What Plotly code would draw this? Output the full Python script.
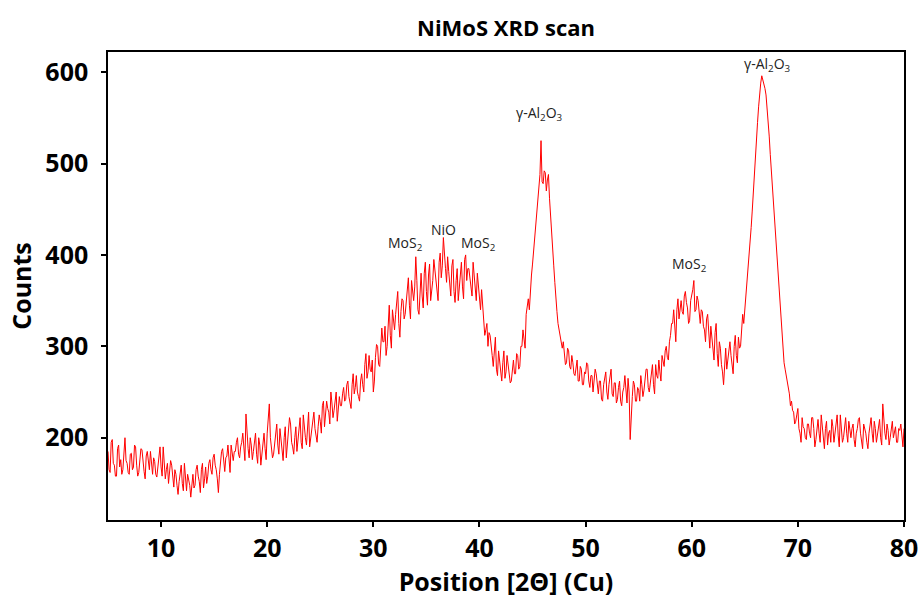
import plotly.graph_objects as go

# XRD scan: 2-theta from 5.0 to 80.0 deg, step 0.1 deg
scan_start = 5.0
scan_step = 0.1
counts = [
    185, 165, 162, 195, 198, 172, 170, 158, 158, 188, 192, 168, 176, 160, 165, 190, 200, 175, 172, 162,
    160, 182, 183, 165, 168, 192, 190, 170, 158, 162, 176, 188, 187, 170, 163, 155, 180, 185, 170, 165,
    185, 172, 160, 178, 174, 160, 157, 168, 182, 190, 168, 158, 190, 172, 155, 165, 172, 150, 162, 175,
    170, 158, 146, 165, 160, 148, 138, 152, 163, 170, 150, 142, 172, 158, 142, 160, 155, 148, 135, 150,
    160, 145, 148, 165, 170, 158, 152, 140, 165, 172, 145, 155, 168, 150, 158, 172, 176, 165, 160, 178,
    182, 170, 165, 155, 140, 160, 178, 185, 188, 170, 163, 178, 180, 192, 170, 162, 192, 180, 175, 185,
    185, 195, 200, 182, 178, 190, 195, 205, 182, 175, 226, 198, 188, 178, 200, 192, 176, 185, 195, 205,
    182, 172, 200, 192, 170, 185, 195, 205, 188, 176, 205, 218, 237, 200, 190, 178, 182, 195, 205, 215,
    192, 182, 210, 198, 185, 175, 200, 212, 178, 190, 205, 222, 215, 195, 190, 182, 200, 212, 185, 198,
    210, 222, 195, 188, 225, 208, 200, 192, 215, 228, 190, 200, 208, 218, 228, 210, 202, 195, 212, 225,
    218, 205, 235, 240, 212, 225, 240, 232, 228, 215, 250, 238, 222, 230, 238, 250, 218, 228, 245, 235,
    235, 248, 255, 240, 242, 258, 262, 245, 240, 232, 258, 270, 248, 255, 268, 250, 245, 240, 262, 270,
    258, 250, 280, 292, 265, 272, 290, 275, 272, 285, 250, 262, 288, 302, 300, 280, 278, 295, 320, 305,
    305, 322, 290, 300, 330, 345, 312, 298, 340, 325, 318, 335, 345, 360, 325, 310, 338, 352, 350, 330,
    335, 348, 362, 375, 345, 330, 372, 360, 350, 365, 398, 372, 340, 335, 368, 380, 355, 342, 380, 392,
    360, 345, 378, 390, 350, 362, 372, 395, 385, 368, 365, 350, 392, 402, 375, 388, 419, 395, 385, 370,
    398, 382, 370, 355, 388, 395, 360, 348, 372, 385, 350, 362, 378, 392, 365, 352, 395, 400, 372, 385,
    385, 372, 368, 355, 392, 378, 372, 350, 380, 368, 355, 340, 362, 345, 330, 312, 318, 325, 300, 315,
    312, 295, 290, 278, 302, 310, 275, 268, 295, 285, 268, 262, 282, 295, 265, 272, 290, 278, 270, 260,
    262, 278, 285, 270, 270, 292, 290, 275, 278, 300, 300, 318, 310, 298, 335, 342, 352, 340, 365, 378,
    390, 405, 420, 435, 448, 460, 470, 488, 525, 480, 478, 492, 490, 470, 482, 488, 462, 440, 420, 405,
    388, 370, 350, 338, 325, 318, 310, 300, 298, 305, 290, 280, 282, 298, 295, 278, 275, 290, 282, 270,
    268, 280, 285, 262, 262, 278, 275, 258, 258, 272, 270, 282, 280, 262, 255, 268, 268, 250, 262, 275,
    270, 255, 248, 262, 262, 242, 240, 258, 265, 272, 250, 242, 258, 265, 275, 248, 245, 260, 260, 238,
    242, 255, 262, 240, 235, 250, 255, 268, 248, 238, 265, 250, 198, 232, 245, 262, 258, 240, 240, 255,
    252, 240, 268, 258, 245, 252, 262, 275, 275, 255, 250, 262, 268, 280, 258, 248, 280, 268, 265, 285,
    272, 262, 290, 282, 278, 295, 300, 288, 285, 305, 312, 325, 325, 340, 318, 305, 340, 352, 330, 345,
    350, 338, 335, 355, 360, 348, 342, 325, 328, 350, 355, 362, 372, 338, 340, 355, 350, 332, 325, 340,
    338, 322, 318, 305, 330, 335, 310, 298, 322, 312, 298, 285, 315, 325, 292, 278, 305, 298, 280, 272,
    258, 282, 298, 275, 285, 300, 305, 290, 280, 270, 300, 312, 290, 282, 310, 298, 300, 315, 335, 325,
    340, 352, 368, 380, 392, 410, 430, 448, 470, 488, 505, 525, 545, 562, 578, 588, 596, 592, 588, 582,
    575, 562, 548, 530, 510, 492, 470, 452, 435, 418, 400, 385, 370, 350, 330, 308, 290, 282, 275, 268,
    262, 255, 248, 235, 240, 230, 228, 215, 218, 225, 232, 210, 205, 195, 222, 212, 210, 200, 198, 215,
    215, 205, 200, 222, 222, 210, 190, 198, 212, 220, 205, 195, 225, 212, 198, 188, 210, 218, 192, 205,
    208, 195, 220, 212, 195, 205, 215, 225, 202, 190, 225, 212, 195, 200, 212, 222, 205, 195, 218, 210,
    200, 210, 215, 198, 190, 205, 210, 220, 222, 205, 198, 188, 215, 210, 205, 195, 188, 205, 212, 222,
    205, 195, 218, 210, 195, 202, 212, 220, 200, 192, 237, 215, 205, 198, 215, 208, 192, 200, 208, 218,
    200, 208, 212, 195, 195, 210, 208, 215, 198, 190, 210,
]
two_theta = [round(scan_start + scan_step * i, 1) for i in range(len(counts))]

# Peak labels
peak_labels = ["MoS<sub>2</sub>", "NiO", "MoS<sub>2</sub>", "γ-Al<sub>2</sub>O<sub>3</sub>",
               "MoS<sub>2</sub>", "γ-Al<sub>2</sub>O<sub>3</sub>"]
peak_x = [33.0, 36.6, 39.9, 45.7, 59.8, 67.1]
peak_y = [412, 428, 412, 555, 389, 608]

x_ticks = [10, 20, 30, 40, 50, 60, 70, 80]
y_ticks = [200, 300, 400, 500, 600]

FONT = "'Open Sans', Lato, sans-serif"
FIG_W, FIG_H = 921, 599

fig = go.Figure()
fig.add_trace(go.Scatter(
    x=two_theta, y=counts, mode="lines",
    line=dict(color="#ff0000", width=1),
    showlegend=False,
))

for t, xv, yv in zip(peak_labels, peak_x, peak_y):
    fig.add_annotation(x=xv, y=yv, xref="x", yref="y", text=t, showarrow=False,
                       font=dict(family=FONT, size=14, color="#222222"))

axis_common = dict(
    showline=True, linecolor="black", linewidth=1.5, mirror=True,
    ticks="outside", ticklen=5, tickwidth=1.5, tickcolor="black",
    showgrid=False, zeroline=False, automargin=False,
    tickfont=dict(family=FONT, size=25, color="black", weight="bold"),
)

fig.update_layout(
    width=FIG_W, height=FIG_H,
    margin=dict(l=108, r=17, t=52, b=79),
    paper_bgcolor="white", plot_bgcolor="white",
    title=dict(text="<b>NiMoS XRD scan</b>", x=0.5, xref="paper", xanchor="center",
               y=1 - 28 / FIG_H, yref="container", yanchor="middle",
               font=dict(family=FONT, size=22, color="black")),
    xaxis=dict(range=[5, 80], tickvals=x_ticks, ticklabelstandoff=0,
               title=dict(text="<b>Position [2Θ] (Cu)</b>", standoff=4,
                          font=dict(family=FONT, size=25, color="black")),
               **axis_common),
    yaxis=dict(range=[110, 622], tickvals=y_ticks, ticklabelstandoff=8,
               title=dict(text="<b>Counts</b>", standoff=7,
                          font=dict(family=FONT, size=25, color="black")),
               **axis_common),
)

# remove the page's default 8px body margin so the figure fills the window exactly
fig.write_html("out.html", config={"displayModeBar": False},
               post_script="document.body.style.margin='0';")
